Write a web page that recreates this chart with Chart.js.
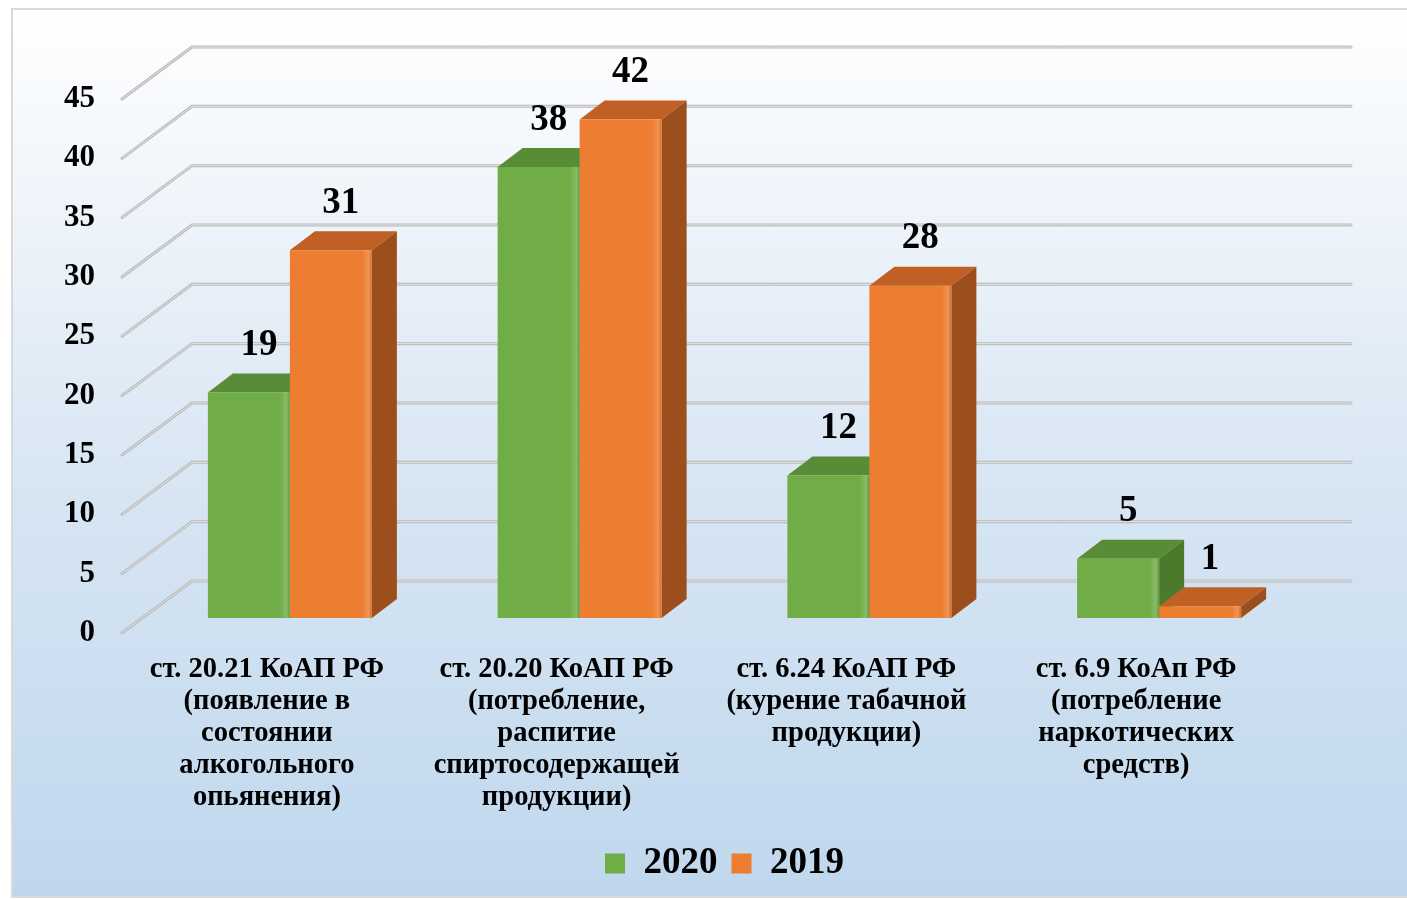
<!DOCTYPE html>
<html>
<head>
<meta charset="utf-8">
<script src="https://cdn.jsdelivr.net/npm/chart.js@4/dist/chart.umd.min.js"></script>
<style>
  html, body { margin: 0; padding: 0; background: #fff; }
  #wrap { width: 1407px; height: 899px; position: relative; }
</style>
</head>
<body>
<div id="wrap"><canvas id="barChart"></canvas></div>
<script>
// Данные диаграммы
const categories = [
    ['ст. 20.21 КоАП РФ', '(появление в', 'состоянии', 'алкогольного', 'опьянения)'],
    ['ст. 20.20 КоАП РФ', '(потребление,', 'распитие', 'спиртосодержащей', 'продукции)'],
    ['ст. 6.24 КоАП РФ', '(курение табачной', 'продукции)'],
    ['ст. 6.9 КоАп РФ', '(потребление', 'наркотических', 'средств)']
];
const seriesNames = ['2020', '2019'];
const values2020 = [19, 38, 12, 5];
const values2019 = [31, 42, 28, 1];
const yTicks = [0, 5, 10, 15, 20, 25, 30, 35, 40, 45];

// Цвета: передняя грань, верх, бок
const faces = [
    { front: '#70ad47', top: '#588c37', side: '#4b7a2c' },
    { front: '#ed7d31', top: '#c06024', side: '#9c4f1d' }
];

const SERIF = '"Liberation Serif", "Times New Roman", serif';
const DEPTH = { dx: 25, dy: -19 };     // глубина столбца
const BACK = { dx: 47, dy: -37 };      // задняя стенка
const FRONT = { dx: -23, dy: 15 };     // передний край

// Фон с градиентом и рамкой
const backgroundPlugin = {
    id: 'background',
    beforeDraw(chart) {
        const c = chart.ctx;
        const g = c.createLinearGradient(0, 8, 0, 899);
        g.addColorStop(0, '#ffffff');
        g.addColorStop(0.5, '#dae7f4');
        g.addColorStop(1, '#bfd7ed');
        c.save();
        c.fillStyle = '#ffffff';
        c.fillRect(0, 0, chart.width, chart.height);
        c.fillStyle = g;
        c.fillRect(12, 9, chart.width - 12, chart.height - 10);
        c.strokeStyle = '#d9d9d9';
        c.lineWidth = 2;
        c.strokeRect(12, 9, chart.width + 5, chart.height - 11);
        c.restore();
    }
};

// Сетка в псевдо-3D и боковые/верхние грани столбцов
const threeDPlugin = {
    id: 'threeD',
    beforeDatasetsDraw(chart) {
        const c = chart.ctx;
        const y = chart.scales.y;
        const area = chart.chartArea;
        c.save();
        c.lineCap = 'round';
        yTicks.forEach(t => {
            const py = y.getPixelForValue(t);
            const pts = [
                [area.left + FRONT.dx, py + FRONT.dy],
                [area.left + BACK.dx, py + BACK.dy],
                [area.right + BACK.dx, py + BACK.dy]
            ];
            [[3, '#b8b8b8'], [1, '#e6e6e6']].forEach(([w, col]) => {
                c.beginPath();
                c.moveTo(pts[0][0], pts[0][1]);
                c.lineTo(pts[1][0], pts[1][1]);
                c.lineTo(pts[2][0], pts[2][1]);
                c.lineWidth = w;
                c.strokeStyle = col;
                c.stroke();
            });
        });

        chart.data.datasets.forEach((ds, di) => {
            const meta = chart.getDatasetMeta(di);
            meta.data.forEach(bar => {
                const l = bar.x - bar.width / 2;
                const r = bar.x + bar.width / 2;
                const top = bar.y;
                const base = bar.base;
                // верх
                c.beginPath();
                c.moveTo(l, top);
                c.lineTo(l + DEPTH.dx, top + DEPTH.dy);
                c.lineTo(r + DEPTH.dx, top + DEPTH.dy);
                c.lineTo(r, top);
                c.closePath();
                c.fillStyle = faces[di].top;
                c.fill();
                // бок
                c.beginPath();
                c.moveTo(r, top);
                c.lineTo(r + DEPTH.dx, top + DEPTH.dy);
                c.lineTo(r + DEPTH.dx, base + DEPTH.dy);
                c.lineTo(r, base);
                c.closePath();
                c.fillStyle = faces[di].side;
                c.fill();
            });
        });
        c.restore();
    },
    afterDatasetsDraw(chart) {
        const c = chart.ctx;
        c.save();
        // блик на правом краю передней грани
        chart.data.datasets.forEach((ds, di) => {
            chart.getDatasetMeta(di).data.forEach(bar => {
                const r = bar.x + bar.width / 2;
                const g = c.createLinearGradient(r - 10, 0, r, 0);
                g.addColorStop(0, 'rgba(255,255,255,0)');
                g.addColorStop(0.7, 'rgba(255,255,255,0.18)');
                g.addColorStop(1, 'rgba(0,0,0,0.08)');
                c.fillStyle = g;
                c.fillRect(r - 10, bar.y, 10, bar.base - bar.y);
            });
        });
        // подписи значений
        c.font = 'bold 37px ' + SERIF;
        c.fillStyle = '#000';
        c.textAlign = 'center';
        c.textBaseline = 'middle';
        chart.data.datasets.forEach((ds, di) => {
            chart.getDatasetMeta(di).data.forEach((bar, i) => {
                c.fillText(String(ds.data[i]), bar.x + 10, bar.y - 47);
            });
        });
        c.restore();
    }
};

new Chart(document.getElementById('barChart'), {
    type: 'bar',
    data: {
        labels: categories,
        datasets: [
            { label: seriesNames[0], data: values2020, backgroundColor: faces[0].front },
            { label: seriesNames[1], data: values2019, backgroundColor: faces[1].front }
        ]
    },
    options: {
        responsive: true,
        maintainAspectRatio: false,
        animation: false,
        layout: { padding: { left: 0, right: 103, top: 84, bottom: 7 } },
        datasets: { bar: { categoryPercentage: 0.566, barPercentage: 1 } },
        scales: {
            x: {
                grid: { display: false, drawTicks: false },
                border: { display: false },
                ticks: {
                    autoSkip: false,
                    maxRotation: 0,
                    padding: 36,
                    labelOffset: -23,
                    color: '#000',
                    font: { family: SERIF, size: 28.5, weight: 'bold', lineHeight: 1.12 }
                },
                afterFit(scale) { scale.height = 213; }
            },
            y: {
                min: 0,
                max: 45,
                grid: { display: false, drawTicks: false },
                border: { display: false },
                ticks: {
                    stepSize: 5,
                    padding: 50,
                    labelOffset: 15,
                    color: '#000',
                    font: { family: SERIF, size: 31, weight: 'bold' }
                },
                afterFit(scale) { scale.width = 145; }
            }
        },
        plugins: {
            legend: {
                position: 'bottom',
                fullSize: false,
                labels: {
                    boxWidth: 20,
                    boxHeight: 20,
                    padding: 14,
                    color: '#000',
                    font: { family: SERIF, size: 37, weight: 'bold' }
                }
            },
            tooltip: { enabled: false }
        }
    },
    plugins: [backgroundPlugin, threeDPlugin]
});
</script>
</body>
</html>
